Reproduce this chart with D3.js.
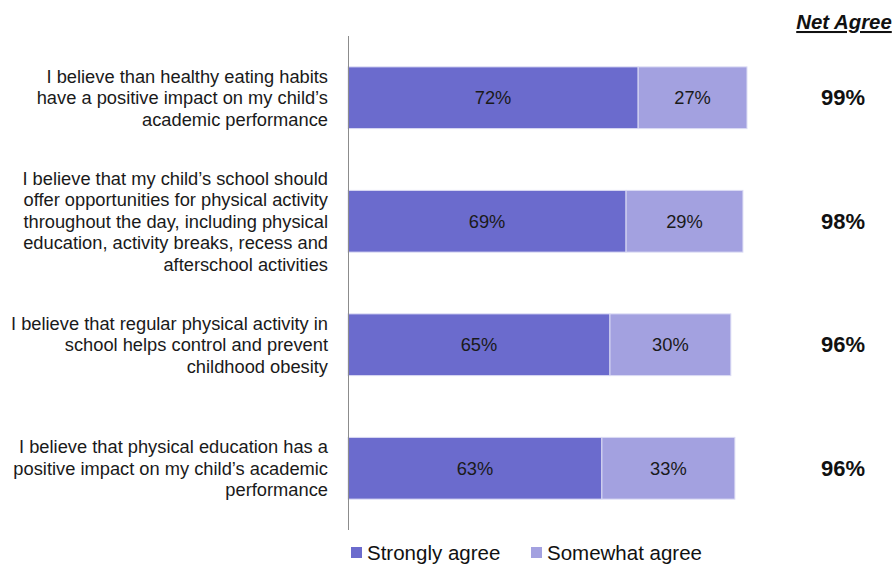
<!DOCTYPE html>
<html>
<head>
<meta charset="utf-8">
<script src="https://cdn.jsdelivr.net/npm/d3@7"></script>
<style>
  html, body { margin: 0; padding: 0; background: #fff; }
  svg { display: block; font-family: "Liberation Sans", Arial, sans-serif; }
</style>
</head>
<body>
<svg id="chart" width="896" height="566"></svg>
<script>
// Survey statements, one line per array entry
const categories = [
  ["I believe than healthy eating habits", "have a positive impact on my child\u2019s", "academic performance"],
  ["I believe that my child\u2019s school should", "offer opportunities for physical activity", "throughout the day, including physical", "education, activity breaks, recess and", "afterschool activities"],
  ["I believe that regular physical activity in", "school helps control and prevent", "childhood obesity"],
  ["I believe that physical education has a", "positive impact on my child\u2019s academic", "performance"]
];
const stronglyAgree = [72, 69, 65, 63];
const somewhatAgree = [27, 29, 30, 33];
const netAgree = [99, 98, 96, 96];
const seriesNames = ["Strongly agree", "Somewhat agree"];
const colors = ["#6b6bcd", "#a3a1e0"];

const svg = d3.select("#chart");
const ids = d3.range(categories.length);

const x = d3.scaleLinear().domain([0, 100]).range([348, 751]);
const y = d3.scaleBand().domain(ids).range([36, 530]).paddingInner(0.5).paddingOuter(0.25);

const rows = ids.map(i => ({ i, s: stronglyAgree[i], w: somewhatAgree[i], n: netAgree[i] }));

// Stacked segments
const segs = [];
rows.forEach(r => {
  segs.push({ i: r.i, x0: 0, x1: r.s, v: r.s, k: 0 });
  segs.push({ i: r.i, x0: r.s, x1: r.s + r.w, v: r.w, k: 1 });
});

svg.append("g").selectAll("rect").data(segs).join("rect")
  .attr("x", d => x(d.x0))
  .attr("y", d => y(d.i))
  .attr("width", d => x(d.x1) - x(d.x0))
  .attr("height", y.bandwidth())
  .attr("fill", d => colors[d.k])
  .attr("stroke", "#dcdcf4")
  .attr("stroke-width", 1);

svg.append("g").selectAll("text").data(segs).join("text")
  .attr("x", d => (x(d.x0) + x(d.x1)) / 2)
  .attr("y", d => y(d.i) + y.bandwidth() / 2)
  .attr("dy", "0.35em")
  .attr("text-anchor", "middle")
  .attr("font-size", 18.3)
  .attr("fill", "#1a1a1a")
  .text(d => d.v + "%");

// Vertical category axis line
svg.append("line")
  .attr("x1", 348.5).attr("x2", 348.5)
  .attr("y1", 36).attr("y2", 530)
  .attr("stroke", "#8c8c8c").attr("stroke-width", 1);

// Category labels, right aligned
const lineH = 21.5;
const labels = svg.append("g").selectAll("text").data(rows).join("text")
  .attr("text-anchor", "end")
  .attr("font-size", 18.3)
  .attr("fill", "#1a1a1a");
labels.each(function(r) {
  const lines = categories[r.i];
  const cy = y(r.i) + y.bandwidth() / 2;
  const top = cy - (lines.length - 1) * lineH / 2;
  d3.select(this).selectAll("tspan").data(lines).join("tspan")
    .attr("x", 328)
    .attr("y", (d, j) => top + j * lineH)
    .attr("dy", "0.35em")
    .text(d => d);
});

// Net agree column
svg.append("text")
  .attr("x", 844).attr("y", 29)
  .attr("text-anchor", "middle")
  .attr("font-size", 20.4)
  .attr("font-weight", "bold")
  .attr("font-style", "italic")
  .attr("text-decoration", "underline")
  .attr("fill", "#111")
  .text("Net Agree");

svg.append("g").selectAll("text").data(rows).join("text")
  .attr("x", 843)
  .attr("y", r => y(r.i) + y.bandwidth() / 2)
  .attr("dy", "0.35em")
  .attr("text-anchor", "middle")
  .attr("font-size", 22)
  .attr("font-weight", "bold")
  .attr("fill", "#111")
  .text(r => r.n + "%");

// Legend
const legendX = [351, 531];
const lg = svg.append("g").selectAll("g").data(seriesNames).join("g")
  .attr("transform", (d, k) => `translate(${legendX[k]},547)`);
lg.append("rect").attr("x", 0).attr("y", 0).attr("width", 11).attr("height", 11)
  .attr("fill", (d, k) => colors[k]);
lg.append("text").attr("x", 16).attr("y", 6).attr("dy", "0.35em")
  .attr("font-size", 20.5).attr("fill", "#111").text(d => d);
</script>
</body>
</html>
